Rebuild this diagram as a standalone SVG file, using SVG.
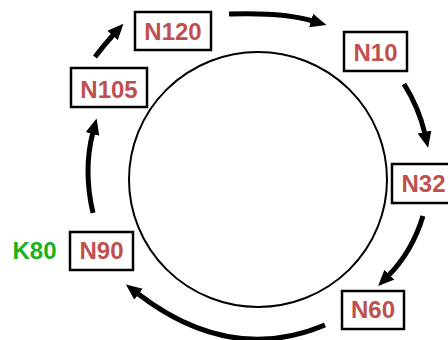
<svg xmlns="http://www.w3.org/2000/svg" width="448" height="340" viewBox="0 0 448 340">
  <style>
    .box { fill: #ffffff; stroke: #000000; stroke-width: 2.5; }
    .lbl { font-family: "Liberation Sans", Arial, sans-serif; font-weight: bold; font-size: 24px; fill: #c0504d; text-anchor: middle; }
    .key { font-family: "Liberation Sans", Arial, sans-serif; font-weight: bold; font-size: 24px; fill: #19b219; text-anchor: middle; }
    .ring { fill: none; stroke: #000000; stroke-width: 2; }
    .arc { fill: none; stroke: #000000; stroke-width: 5; marker-end: url(#head); }
  </style>
  <defs>
    <marker id="head" viewBox="0 0 16 14" markerUnits="userSpaceOnUse" markerWidth="16" markerHeight="14" refX="2" refY="7" orient="auto">
      <path d="M0,0 L16,7 L0,14 z" fill="#000000"/>
    </marker>
  </defs>

  <!-- identifier ring -->
  <ellipse class="ring" cx="258" cy="179.5" rx="129" ry="127.5"/>

  <!-- successor arrows -->
  <g id="connectors">
    <path class="arc" d="M229,14 Q283,12 313,21"/>
    <path class="arc" d="M404,84 Q419,108 425,134"/>
    <path class="arc" d="M423,216 Q412,252 388,276"/>
    <path class="arc" d="M325,325 Q230,365 137,293"/>
    <path class="arc" d="M93,213 Q83,170 93,132"/>
    <path class="arc" d="M95,57 Q104,45 114,34"/>
  </g>

  <g id="N120">
    <rect class="box" x="135" y="12" width="76" height="38"/>
    <text class="lbl" x="173" y="40">N120</text>
  </g>
  <g id="N10">
    <rect class="box" x="344" y="32" width="63" height="39"/>
    <text class="lbl" x="375.5" y="61">N10</text>
  </g>
  <g id="N32">
    <rect class="box" x="392" y="164" width="63" height="39"/>
    <text class="lbl" x="423.5" y="192">N32</text>
  </g>
  <g id="N60">
    <rect class="box" x="342" y="291" width="62" height="38"/>
    <text class="lbl" x="373" y="318">N60</text>
  </g>
  <g id="N90">
    <rect class="box" x="70" y="232" width="63" height="38"/>
    <text class="lbl" x="101.5" y="259">N90</text>
  </g>
  <g id="N105">
    <rect class="box" x="71" y="68" width="76" height="39"/>
    <text class="lbl" x="109" y="97.5">N105</text>
  </g>
  <g id="K80">
    <text class="key" x="34.5" y="259">K80</text>
  </g>
</svg>
